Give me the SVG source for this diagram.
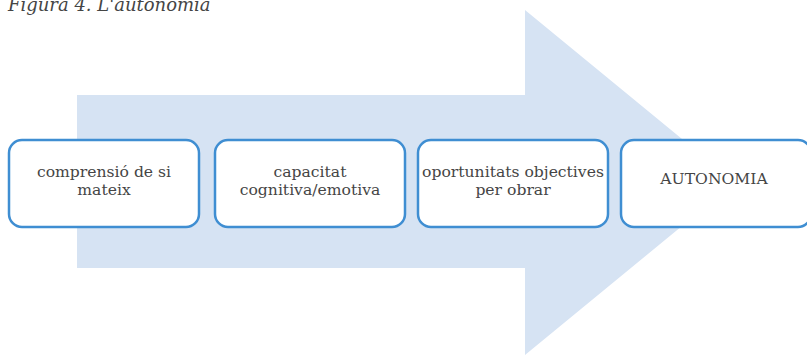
<svg xmlns="http://www.w3.org/2000/svg" width="807" height="355" viewBox="0 0 807 355">
<style>
.box{fill:#fff;stroke:#3f8ed2;stroke-width:2.5}
.t{font-family:'DejaVu Serif',serif;font-size:15.6px;fill:#454545;text-anchor:middle}
.title{font-family:'DejaVu Serif',serif;font-size:18px;font-style:italic;fill:#454545}
</style>
<rect width="807" height="355" fill="#fff"/>
<text class="title" x="8" y="11">Figura 4. L'autonomia</text>
<g id="arrow">
<polygon points="77,95 525,95 525,10 735,182.5 525,355 525,268 77,268" fill="#d6e3f3"/>
</g>
<g id="connectors"></g>
<g id="n1"><rect class="box" x="9" y="140" width="190" height="87" rx="13"/><text class="t" x="104" y="177">comprensió de si</text><text class="t" x="104" y="195">mateix</text></g>
<g id="n2"><rect class="box" x="215" y="140" width="190" height="87" rx="13"/><text class="t" x="310" y="177">capacitat</text><text class="t" x="310" y="195">cognitiva/emotiva</text></g>
<g id="n3"><rect class="box" x="418" y="140" width="190" height="87" rx="13"/><text class="t" x="513" y="177">oportunitats objectives</text><text class="t" x="513" y="195">per obrar</text></g>
<g id="n4"><rect class="box" x="621" y="140" width="190" height="87" rx="13"/><text class="t" x="714" y="184">AUTONOMIA</text></g>
</svg>
